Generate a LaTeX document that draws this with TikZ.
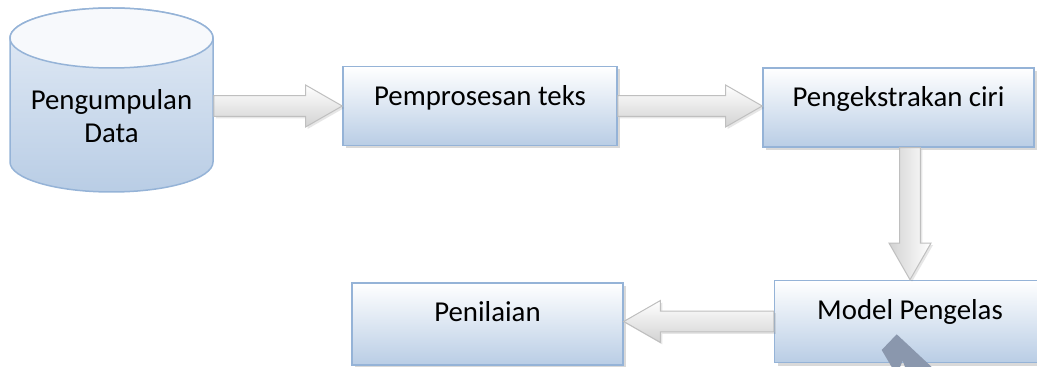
\documentclass[tikz,border=0pt]{standalone}
\usepackage{fontspec}
\setmainfont{Carlito}
\usetikzlibrary{calc,shadows}
\definecolor{boxline}{HTML}{95B3D7}
\definecolor{boxfill}{HTML}{B9CDE5}
\definecolor{cyltop}{HTML}{E4ECF6}
\definecolor{arrline}{HTML}{BFBFBF}
\definecolor{arrfill}{HTML}{D2D2D2}
\definecolor{cursor}{HTML}{8A97AD}

\begin{document}
\begin{tikzpicture}[x=0.03cm, y=0.03cm, line width=0.045cm,
	txt/.style={font=\fontsize{24.6}{28.1}\selectfont},
	box/.style={txt, rectangle, draw=boxline, top color=white, bottom color=boxfill,
		inner sep=0pt, minimum width=8.13cm, text height=1.17cm, text depth=1.2cm,
		drop shadow={shadow xshift=0.09cm, shadow yshift=-0.09cm, opacity=0.3}},
	fatarrow/.style={draw=arrline, line width=0.03cm,
		drop shadow={shadow xshift=0.06cm, shadow yshift=-0.06cm, opacity=0.2},
		to path={($(\tikztostart)!0.31cm!90:(\tikztotarget)$)
			-- ($(\tikztotarget)!1.1cm!(\tikztostart)!0.31cm!90:(\tikztotarget)$)
			-- ($(\tikztotarget)!1.1cm!(\tikztostart)!0.63cm!90:(\tikztotarget)$)
			-- (\tikztotarget)
			-- ($(\tikztotarget)!1.1cm!(\tikztostart)!0.63cm!-90:(\tikztotarget)$)
			-- ($(\tikztotarget)!1.1cm!(\tikztostart)!0.31cm!-90:(\tikztotarget)$)
			-- ($(\tikztostart)!0.31cm!-90:(\tikztotarget)$) -- cycle}}]
\useasboundingbox (0,0) rectangle (1037,367);
\clip (0,0) rectangle (1037,367);

% data store
\path[draw=boxline, top color=cyltop, bottom color=boxfill] (10,329) -- (10,205)
	arc[start angle=180, end angle=360, x radius=101.5, y radius=30] -- (213,329)
	arc[start angle=0, end angle=180, x radius=101.5, y radius=30] -- cycle;
\filldraw[draw=boxline, fill=white!70!cyltop] (111.5,329) ellipse [x radius=101.5, y radius=30];
\node[txt, align=center, minimum width=6.09cm] (data) at (111.5,250.5) {Pengumpulan\\Data};

\node[box, minimum width=8.22cm] (proc) at (480,261) {Pemprosesan teks};
\node[box] (feat) at (898.5,259.5) {Pengekstrakan ciri};
\node[box, text depth=1.29cm] (model) at (910,45.5) {Model Pengelas};
\node[box, text depth=1.29cm] (eval) at (487.5,43) {Penilaian};

\path[fatarrow, top color=white, bottom color=arrfill] (data.east |- proc.west) to (proc.west);
\path[fatarrow, top color=white, bottom color=arrfill] (proc.east) to (feat.west |- proc.east);
\path[fatarrow, left color=arrfill, right color=white] (model.north |- feat.south) to (model.north);
\path[fatarrow, top color=white, bottom color=arrfill] (model.west) to (eval.east |- model.west);

\fill[cursor] (896.7,32.7) -- (931.7,0) -- (905,0) -- (902.7,6.3) -- (900,0) -- (891.7,0) -- (881.7,17) -- cycle;
\end{tikzpicture}
\end{document}
